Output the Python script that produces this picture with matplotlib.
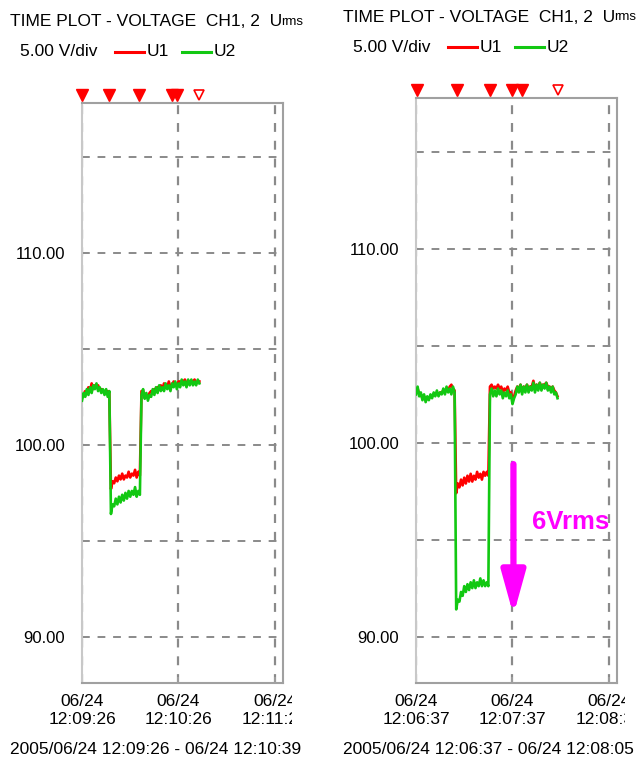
import numpy as np
import matplotlib
matplotlib.use("Agg")
import matplotlib.pyplot as plt
from matplotlib.lines import Line2D
from matplotlib.transforms import Bbox, TransformedBbox, blended_transform_factory

W, H = 644, 763
plt.rcParams['font.family'] = ['Liberation Sans Narrow', 'Liberation Sans', 'DejaVu Sans']

RED = '#ff0000'
GREEN = '#12c812'
GRID = '#8a8a8a'
FRAME = '#a0a0a0'
MAGENTA = '#ff00ff'

# ---- data (1 s samples, volts) ----
# left capture 12:09:26 - 12:10:39
left_u2_pre = [102.3, 102.7, 102.5, 102.9, 102.6, 103.0, 102.7, 103.1, 102.9, 103.2,
               102.8, 103.0, 102.7, 102.9, 102.6, 102.9, 102.5, 102.8]
left_u2_dip = [96.4, 96.9, 96.8, 97.2, 96.9, 97.3, 97.0, 97.4, 97.1, 97.5,
               97.2, 97.6, 97.3, 97.6, 97.4, 97.8, 97.3, 97.6, 97.4]
left_u2_post = [102.6, 102.9, 102.4, 102.7, 102.3, 102.6, 102.5, 102.9, 102.6, 103.0,
                102.7, 103.1, 102.8, 103.0, 102.8, 103.2, 102.9, 103.1, 102.8, 103.2,
                103.0, 103.3, 102.9, 103.2, 103.0, 103.4, 103.1, 103.3, 103.0, 103.4,
                103.1, 103.4, 103.1, 103.3, 103.1, 103.4, 103.2]
left_u1_pre = [102.5, 102.6, 102.8, 102.7, 103.0, 102.8, 103.2, 102.9, 103.1, 103.0,
               103.1, 102.9, 102.9, 102.8, 102.8, 102.7, 102.8, 102.7]
left_u1_dip = [97.7, 98.1, 98.0, 98.3, 98.1, 98.4, 98.2, 98.5, 98.2, 98.4,
               98.3, 98.6, 98.3, 98.5, 98.4, 98.7, 98.3, 98.6, 98.4]
left_u1_post = [102.8, 102.8, 102.6, 102.6, 102.5, 102.7, 102.8, 102.8, 102.9, 102.9,
                103.0, 103.0, 103.1, 102.9, 103.2, 103.1, 103.0, 103.3, 103.0, 103.1,
                103.3, 103.2, 103.1, 103.3, 103.3, 103.2, 103.3, 103.4, 103.2, 103.3,
                103.3, 103.3, 103.3, 103.4, 103.2, 103.3, 103.3]

# right capture 12:06:37 - 12:08:05
right_u2_pre = [102.5, 102.9, 102.4, 102.6, 102.2, 102.5, 102.1, 102.4, 102.2, 102.5,
                102.3, 102.6, 102.4, 102.7, 102.4, 102.6, 102.5, 102.8, 102.5, 102.9,
                102.6, 102.8, 102.5, 102.9, 102.6]
right_u2_dip = [91.4, 91.9, 91.8, 92.3, 92.1, 92.6, 92.3, 92.7, 92.4, 92.8,
                92.5, 92.9, 92.5, 92.8, 92.6, 93.0, 92.6, 92.9, 92.6, 92.8, 92.6]
right_u2_post = [102.5, 102.8, 102.4, 102.7, 102.4, 102.8, 102.5, 102.7, 102.3, 102.6,
                 102.4, 102.7, 102.3, 102.5, 102.0, 102.3, 102.5, 102.9, 102.6, 103.0,
                 102.5, 102.9, 102.6, 103.0, 102.6, 102.9, 102.7, 103.1, 102.6, 103.0,
                 102.7, 103.1, 102.7, 103.0, 102.8, 103.1, 102.7, 102.9, 102.6, 102.9,
                 102.5, 102.6, 102.3]
right_u1_pre = [102.6, 102.8, 102.5, 102.5, 102.3, 102.4, 102.2, 102.3, 102.3, 102.4,
                102.4, 102.5, 102.5, 102.6, 102.5, 102.6, 102.6, 102.7, 102.6, 102.8,
                102.7, 102.9, 103.0, 102.8, 102.7]
right_u1_dip = [97.4, 97.9, 97.7, 98.1, 97.8, 98.2, 97.9, 98.3, 98.0, 98.4,
                98.0, 98.3, 98.1, 98.5, 98.2, 98.4, 98.1, 98.5, 98.3, 98.5, 98.3]
right_u1_post = [102.9, 103.0, 102.8, 102.9, 102.8, 103.0, 102.8, 102.9, 102.6, 102.8,
                 102.7, 102.9, 102.6, 102.6, 102.3, 102.4, 102.7, 102.9, 102.8, 103.0,
                 102.7, 102.9, 102.8, 103.0, 102.8, 102.9, 102.9, 103.2, 102.8, 103.0,
                 102.9, 103.1, 102.9, 103.0, 103.0, 103.1, 102.9, 102.9, 102.8, 102.9,
                 102.7, 102.6, 102.4]

# event markers (seconds from start); last one hollow
left_events = [0, 16.8, 35.4, 55.9, 59.0]
left_open_event = 72.7
right_events = [0.6, 25.4, 45.8, 59.4, 66.2]
right_open_event = 88.4

x_ticks = [0, 60, 120]
y_ticks = [90, 95, 100, 105, 110, 115]
y_labels = ['90.00', '', '100.00', '', '110.00', '']
left_xlabels = ['06/24\n12:09:26', '06/24\n12:10:26', '06/24\n12:11:26']
right_xlabels = ['06/24\n12:06:37', '06/24\n12:07:37', '06/24\n12:08:37']
left_range = '2005/06/24 12:09:26 - 06/24 12:10:39'
right_range = '2005/06/24 12:06:37 - 06/24 12:08:05'
title = 'TIME PLOT - VOLTAGE  CH1, 2  U'

fig = plt.figure(figsize=(W / 100, H / 100), dpi=100)
fig.patch.set_facecolor('white')


def fx(px):
    return px / W


def fy(py):
    return 1 - py / H


def make_panel(x0, x1, y0, y1):
    ax = fig.add_axes([fx(x0), fy(y1), fx(x1 - x0), (y1 - y0) / H])
    ax.set_xlim(0, 125)
    ax.set_ylim(87.6, 117.8)
    for side in ['top', 'right', 'bottom']:
        ax.spines[side].set_color(FRAME)
        ax.spines[side].set_linewidth(1.5)
    ax.spines['left'].set_color('#c8c8c8')
    ax.spines['left'].set_linewidth(1.5)
    ax.set_yticks(y_ticks)
    ax.set_yticklabels(y_labels, fontsize=12)
    ax.tick_params(axis='y', length=0, pad=12)
    ax.tick_params(axis='x', direction='in', length=4, color=FRAME, width=1.2,
                   pad=8, labelsize=12.5)
    for v in y_ticks:
        ax.axhline(v, color=GRID, lw=1.4, ls=(0, (4, 4)), zorder=1)
    for v in x_ticks:
        ax.axvline(v, color=GRID, lw=1.6, ls=(0, (4, 4)), zorder=1)
    return ax


def draw_traces(ax, u1, u2):
    ax.plot(np.arange(len(u1)), u1, color=RED, lw=1.9, zorder=3)
    ax.plot(np.arange(len(u2)), u2, color=GREEN, lw=1.9, zorder=4)


def draw_events(ax, events, open_event, y):
    tr = blended_transform_factory(ax.transData, ax.transAxes)
    ax.plot(events, [y] * len(events), 'v', color=RED, ms=8, transform=tr,
            clip_on=False, zorder=5)
    ax.plot([open_event], [y], 'v', mfc='white', mec=RED, mew=1.2, ms=7.5,
            transform=tr, clip_on=False, zorder=5)


def clip_xlabels(ax, labels, right_px):
    ax.set_xticks(x_ticks)
    ax.set_xticklabels(labels, linespacing=1.25)
    box = TransformedBbox(Bbox([[0, 0], [fx(right_px), 1]]), fig.transFigure)
    for tick in ax.xaxis.get_major_ticks():
        tick.label1.set_clip_on(True)
        tick.label1.set_clip_box(box)


# left panel
axl = make_panel(82, 283, 103, 683)
draw_traces(axl, left_u1_pre + left_u1_dip + left_u1_post,
            left_u2_pre + left_u2_dip + left_u2_post)
draw_events(axl, left_events, left_open_event, 1 + 8 / 580)
clip_xlabels(axl, left_xlabels, 292)

# right panel
axr = make_panel(416, 617, 98, 683)
draw_traces(axr, right_u1_pre + right_u1_dip + right_u1_post,
            right_u2_pre + right_u2_dip + right_u2_post)
draw_events(axr, right_events, right_open_event, 1 + 8 / 585)
clip_xlabels(axr, right_xlabels, 625)

# 6 Vrms drop annotation
axr.annotate('', xy=(60.6, 91.1), xytext=(60.6, 98.9),
             arrowprops=dict(arrowstyle='-|>,head_width=0.72,head_length=2.6',
                             color=MAGENTA, lw=4.5, shrinkA=0, shrinkB=0),
             zorder=6)
axr.text(72.0, 95.9, '6Vrms', color=MAGENTA, fontsize=18.5, fontweight='bold',
         family=['Liberation Sans', 'DejaVu Sans'], va='center', ha='left',
         zorder=6, clip_on=False)

# headers and legends
for tx, ty, lx, ly in [(10, 22, 20, 52), (343, 17, 353, 47)]:
    t1 = fig.text(fx(tx), fy(ty), title, fontsize=12.5, va='center', ha='left')
    plt.annotate('rms', xy=(1, 0), xycoords=t1, xytext=(-1, 1),
                 textcoords='offset points', fontsize=9.5, va='bottom', ha='left')
    fig.text(fx(lx), fy(ly), '5.00 V/div', fontsize=12.5, va='center', ha='left')
    for dx, col, lab in [(95, RED, 'U1'), (162, GREEN, 'U2')]:
        fig.add_artist(Line2D([fx(lx + dx), fx(lx + dx + 29)], [fy(ly), fy(ly)],
                              color=col, lw=2.2, transform=fig.transFigure))
        fig.text(fx(lx + dx + 32), fy(ly), lab, fontsize=12.5, va='center', ha='left')

fig.text(fx(10), fy(750), left_range, fontsize=12.5, va='center', ha='left')
fig.text(fx(343), fy(750), right_range, fontsize=12.5, va='center', ha='left')

fig.savefig('out.png', dpi=100, facecolor='white')
